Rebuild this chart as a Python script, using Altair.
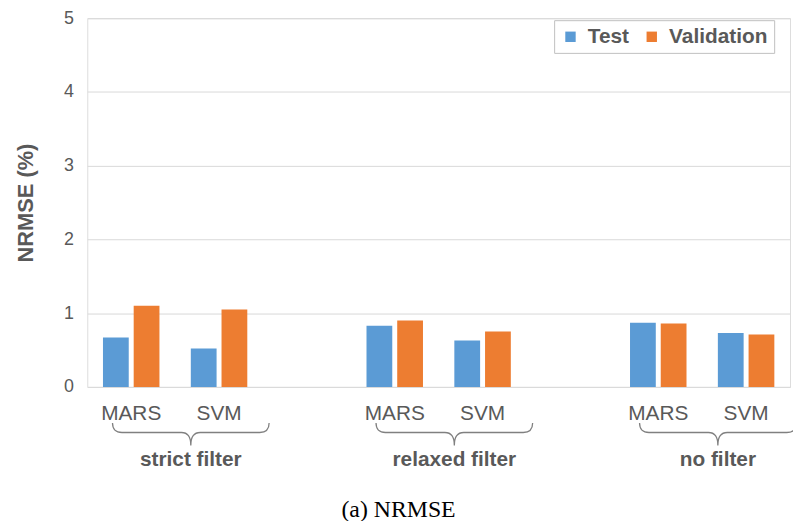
import altair as alt
import pandas as pd

groups = ["strict filter", "relaxed filter", "no filter"]
methods = ["MARS", "SVM"]
series = ["Test", "Validation"]
test_vals = [0.67, 0.52, 0.83, 0.63, 0.87, 0.73]
valid_vals = [1.10, 1.05, 0.90, 0.75, 0.86, 0.71]
y_ticks = [0, 1, 2, 3, 4, 5]
y_title = "NRMSE (%)"
caption = "(a) NRMSE"
colors = ["#5B9BD5", "#ED7D31"]

FONT = "Liberation Sans"
GRAY = "#595959"

rows = []
i = 0
for g in groups:
    for m in methods:
        rows.append({"key": f"{g}|{m}", "series": series[0], "value": test_vals[i]})
        rows.append({"key": f"{g}|{m}", "series": series[1], "value": valid_vals[i]})
        i += 1
bars_df = pd.DataFrame(rows)

domain = []
for j, g in enumerate(groups):
    domain += [f"{g}|{m}" for m in methods]
    if j < len(groups) - 1:
        domain.append(f"gap{j}|")

brace_df = pd.DataFrame({"key": [f"{g}|{methods[1]}" for g in groups], "group": groups})
cap_df = pd.DataFrame({"t": [caption]})

xscale = alt.Scale(domain=domain, paddingInner=0.357, paddingOuter=0.1785)

BRACE = ("M -1 -0.12 Q -1 0 -0.88 0 L -0.12 0 Q 0 0 0 0.165 "
         "Q 0 0 0.12 0 L 0.88 0 Q 1 0 1 -0.12")

bars = alt.Chart(bars_df).mark_bar().encode(
    x=alt.X("key:N", scale=xscale, sort=domain,
            axis=alt.Axis(title=None, labelAngle=0, ticks=False, domain=False, grid=False,
                          labelExpr="split(datum.value, '|')[1]",
                          labelFontSize=21, labelFont=FONT, labelColor=GRAY,
                          labelPadding=16)),
    xOffset=alt.XOffset("series:N", scale=alt.Scale(domain=series, paddingInner=0.161, paddingOuter=0)),
    y=alt.Y("value:Q", scale=alt.Scale(domain=[0, 5]),
            axis=alt.Axis(values=y_ticks, grid=True, gridColor="#D9D9D9", ticks=False, domain=False,
                          labelFontSize=18, labelFont=FONT, labelColor=GRAY, labelPadding=14,
                          title=y_title, titleFontSize=22, titleFont=FONT, titleFontWeight="bold",
                          titleColor=GRAY, titleAngle=270, titleX=-62, titleY=186,
                          titleAlign="center", titleBaseline="middle")),
    color=alt.Color("series:N", scale=alt.Scale(domain=series, range=colors),
                    legend=alt.Legend(title=None, orient="none", legendX=471, legendY=2,
                                      direction="horizontal", strokeColor="#BFBFBF", padding=6,
                                      symbolType="square", symbolSize=110, symbolStrokeWidth=0,
                                      labelFont=FONT, labelFontSize=21, labelFontWeight="bold",
                                      labelColor=GRAY, columnPadding=12, labelOffset=7)),
)

braces = alt.Chart(brace_df).mark_point(
    shape=BRACE, filled=False, stroke="#808080", strokeWidth=1.3, size=24964, opacity=1
).encode(
    x=alt.X("key:N", bandPosition=0),
    y=alt.value(418),
)

group_labels = alt.Chart(brace_df).mark_text(
    font=FONT, fontSize=21, fontWeight="bold", color=GRAY, baseline="alphabetic", align="center"
).encode(
    x=alt.X("key:N", bandPosition=0),
    y=alt.value(452),
    text="group:N",
)

cap = alt.Chart(cap_df).mark_text(
    font="Liberation Serif", fontSize=24, color="black", baseline="alphabetic", align="center"
).encode(
    x=alt.value(314),
    y=alt.value(503),
    text="t:N",
)

chart = alt.layer(bars, braces, group_labels, cap).properties(
    width=709, height=372,
    autosize=alt.AutoSizeParams(type="none"),
    padding={"left": 80, "top": 8, "right": 3, "bottom": 133},
).configure_view(stroke="#BFBFBF", strokeWidth=1).configure(background="white")

chart.save("out.html", embed_options={"renderer": "svg", "actions": False})
